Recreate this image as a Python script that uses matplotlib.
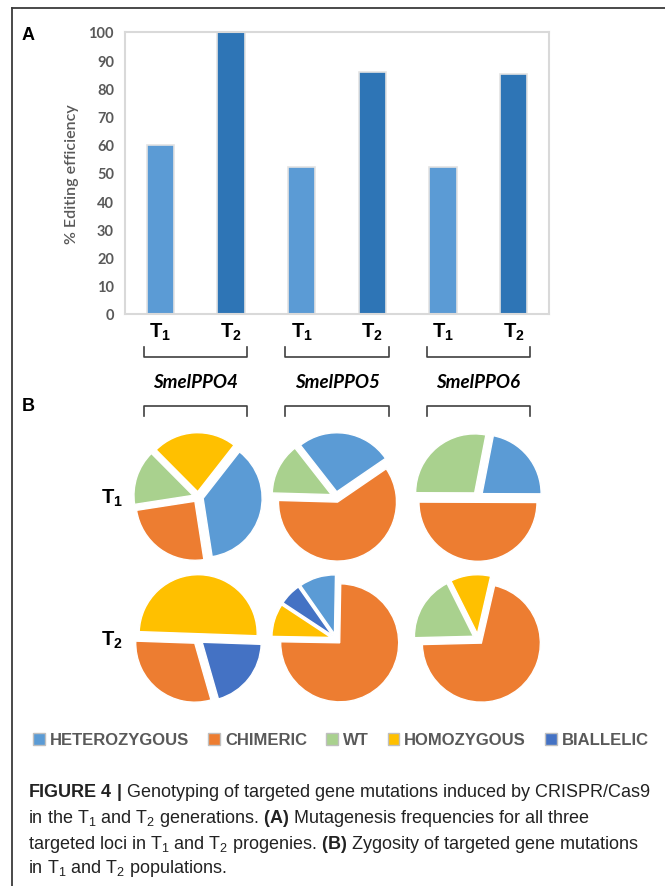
import matplotlib
matplotlib.use('Agg')
import matplotlib.pyplot as plt
from matplotlib.patches import Patch
from matplotlib.lines import Line2D

plt.rcParams['font.family'] = ['Liberation Sans', 'DejaVu Sans']
plt.rcParams['mathtext.fontset'] = 'custom'
plt.rcParams['mathtext.rm'] = 'Liberation Sans'
plt.rcParams['mathtext.it'] = 'Liberation Sans:italic'
plt.rcParams['mathtext.bf'] = 'Liberation Sans:bold'

# panel A data
genes = ['SmelPPO4', 'SmelPPO5', 'SmelPPO6']
gen_labels = [r'$\mathbf{T_1}$', r'$\mathbf{T_2}$']
efficiency_t1 = [60, 52, 52]
efficiency_t2 = [100, 85.7, 85]

# panel B data (% of plants), order as in zygosity
zygosity = ['HETEROZYGOUS', 'CHIMERIC', 'WT', 'HOMOZYGOUS', 'BIALLELIC']
t1_ppo4 = [37, 25, 15, 23, 0]
t1_ppo5 = [26, 60, 14, 0, 0]
t1_ppo6 = [22, 50, 28, 0, 0]
t2_ppo4 = [0, 30, 0, 50, 20]
t2_ppo5 = [10, 75, 0, 9, 6]
t2_ppo6 = [0, 71, 18, 11, 0]

zyg_colors = ['#5b9bd5', '#ed7d31', '#a9d18e', '#ffc000', '#4472c4']
bar_colors = ['#5b9bd5', '#2e75b6']

W, H = 665, 887
fig = plt.figure(figsize=(W / 100, H / 100), dpi=100)


def fx(px):
    return px / W


def fy(py):
    return 1 - py / H


# outer frame (only top and left edges are in view)
fig.add_artist(Line2D([fx(12), fx(12)], [0, fy(9)], color='#3a3a3a', lw=1.3,
                      transform=fig.transFigure))
fig.add_artist(Line2D([fx(12), 1], [fy(9), fy(9)], color='#3a3a3a', lw=1.3,
                      transform=fig.transFigure))

# ---- panel A: bar chart
ax = fig.add_axes([fx(125), fy(315), fx(549) - fx(125), fy(33) - fy(315)])
x_pos = []
heights = []
colors = []
ticklabels = []
for i in range(len(genes)):
    for j, vals in enumerate([efficiency_t1, efficiency_t2]):
        x_pos.append(2 * i + j)
        heights.append(vals[i])
        colors.append(bar_colors[j])
        ticklabels.append(gen_labels[j])

ax.bar(x_pos, heights, width=0.39, color=colors, edgecolor='#e3e3e3', linewidth=1.2)
ax.set_xlim(-0.5, 5.5)
ax.set_ylim(0, 100)
ax.set_yticks(range(0, 101, 10))
ax.set_xticks(x_pos)
ax.set_xticklabels(ticklabels, fontsize=14.5)
for lab in ax.get_yticklabels():
    lab.set_fontweight('bold')
    lab.set_fontsize(10.5)
    lab.set_family('Lato')
ax.tick_params(axis='y', length=0, pad=8, labelcolor='#595959')
ax.tick_params(axis='x', length=0, pad=5)
for sp in ax.spines.values():
    sp.set_color('#d9d9d9')
    sp.set_linewidth(1.5)
ax.set_ylabel('% Editing efficiency', fontsize=11.5, color='#595959', family='Lato',
              fontweight='semibold', labelpad=7)

trans = ax.get_xaxis_transform()
for i, g in enumerate(genes):
    x0 = 2 * i - 0.23
    x1 = 2 * i + 1 + 0.23
    ax.plot([x0, x0, x1, x1], [-0.117, -0.152, -0.152, -0.117], transform=trans,
            clip_on=False, color='#404040', lw=1.2)
    ax.plot([x0, x0, x1, x1], [-0.362, -0.326, -0.326, -0.362], transform=trans,
            clip_on=False, color='#404040', lw=1.2)
    ax.text(2 * i + 0.5, -0.241, g, transform=trans, ha='center', va='center',
            fontsize=13.5, fontweight='bold', fontstyle='italic', family='Lato')

fig.text(fx(22), fy(36), 'A', fontsize=13, fontweight='bold', va='center')
fig.text(fx(22), fy(407), 'B', fontsize=13, fontweight='bold', va='center')

# ---- panel B: pies
pie_rows = [[t1_ppo4, t1_ppo5, t1_ppo6], [t2_ppo4, t2_ppo5, t2_ppo6]]
start_angles = [[52, 128, 79], [-74, 125, 77]]
centers_x = [198, 336, 478]
centers_y = [498, 640]
R = 59
for r, row in enumerate(pie_rows):
    for c, vals in enumerate(row):
        size = 2.6 * R
        pax = fig.add_axes([fx(centers_x[c] - size / 2), fy(centers_y[r] + size / 2),
                            fx(size), size / H])
        keep = [k for k, v in enumerate(vals) if v > 0]
        pax.pie([vals[k] for k in keep], colors=[zyg_colors[k] for k in keep],
                startangle=start_angles[r][c], counterclock=False,
                explode=[0.09] * len(keep),
                wedgeprops=dict(edgecolor='white', linewidth=1))
        pax.set_xlim(-1.3, 1.3)
        pax.set_ylim(-1.3, 1.3)
        pax.set_aspect('equal')
        pax.axis('off')
    fig.text(fx(112), fy(centers_y[r]), gen_labels[r], fontsize=14.5, ha='center', va='center')

handles = [Patch(facecolor=zyg_colors[k], edgecolor='#bfbfbf', linewidth=1)
           for k in range(len(zygosity))]
fig.legend(handles, zygosity, loc='center', bbox_to_anchor=(fx(341), fy(741)), ncol=5,
           frameon=False, prop=dict(weight='bold', size=12), labelcolor='#595959',
           handlelength=0.7, handleheight=0.7, handletextpad=0.3, columnspacing=1.15)

# ---- caption
caption = [
    r'$\bf{FIGURE\ 4\ |}$ Genotyping of targeted gene mutations induced by CRISPR/Cas9',
    r'in the T$_1$ and T$_2$ generations. $\bf{(A)}$ Mutagenesis frequencies for all three',
    r'targeted loci in T$_1$ and T$_2$ progenies. $\bf{(B)}$ Zygosity of targeted gene mutations',
    r'in T$_1$ and T$_2$ populations.',
]
for k, line in enumerate(caption):
    fig.text(fx(28), fy([793, 819, 845, 869][k]), line, fontsize=13.0, color='#222222',
             ha='left', va='center')

fig.savefig('out.png', dpi=100)
